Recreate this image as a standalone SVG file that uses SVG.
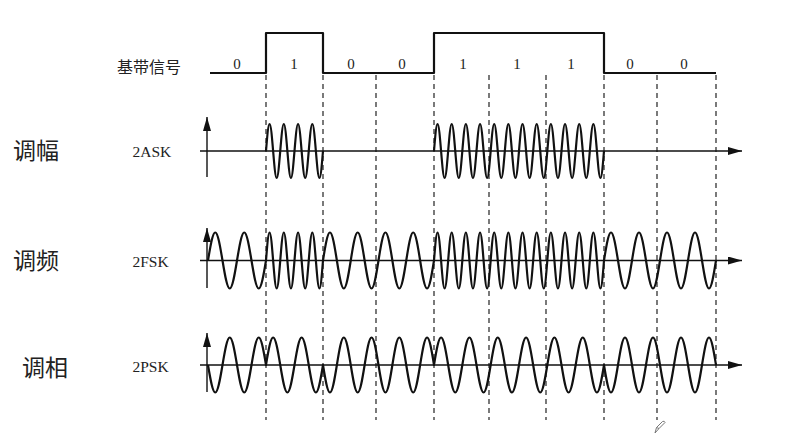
<svg xmlns="http://www.w3.org/2000/svg" width="791" height="446" viewBox="0 0 791 446">
<style>
.sig{fill:none;stroke:#111;stroke-width:2.2;stroke-linejoin:round}
.axis{fill:none;stroke:#111;stroke-width:1.4}
.dash{fill:none;stroke:#333;stroke-width:1.3;stroke-dasharray:5 4}
.cjk{font-family:"Noto Sans CJK SC","Noto Sans",sans-serif;fill:#222;dominant-baseline:central}
.ser{font-family:"Liberation Serif","Times New Roman",serif;fill:#222}
</style>
<defs>
<marker id="arr" viewBox="0 0 14 8" refX="14" refY="4" markerWidth="14" markerHeight="8" markerUnits="userSpaceOnUse" orient="auto">
<path d="M0,0 L14,4 L0,8 Z" fill="#111"/>
</marker>
</defs>
<rect width="791" height="446" fill="#fff"/>

<g id="connectors">
<path class="dash" d="M266,75V420M323,75V420M376,75V420M434,75V420M489,75V420M546,75V420M604,75V420M657,75V420M716,75V420"/>
<path class="axis" d="M200,151H742" marker-end="url(#arr)"/>
<path class="axis" d="M207,177V117" marker-end="url(#arr)"/>
<path class="axis" d="M200,260.5H742" marker-end="url(#arr)"/>
<path class="axis" d="M207,288V228" marker-end="url(#arr)"/>
<path class="axis" d="M200,365H742" marker-end="url(#arr)"/>
<path class="axis" d="M207,392V333" marker-end="url(#arr)"/>
</g>

<g id="baseband">
<text class="cjk" x="117" y="65.5" font-size="16">基带信号</text>
<path class="sig" d="M210,73H266V33H323V73H434V33H604V73H716"/>
<g class="ser" font-size="15" text-anchor="middle">
<text x="237" y="69">0</text>
<text x="294" y="69">1</text>
<text x="351" y="69">0</text>
<text x="402" y="69">0</text>
<text x="463" y="69">1</text>
<text x="517" y="69">1</text>
<text x="571" y="69">1</text>
<text x="630" y="69">0</text>
<text x="684" y="69">0</text>
</g>
</g>

<g id="ask">
<text class="cjk" x="13" y="149" font-size="23">调幅</text>
<text class="ser" x="132.5" y="156.7" font-size="15.5">2ASK</text>
<path class="sig" d="M266,151
c1.16,-13.83 2.27,-27 3.5625,-27 s2.4,13.17 3.5625,27 s2.27,27 3.5625,27 s2.4,-13.17 3.5625,-27
s2.27,-27 3.5625,-27 s2.4,13.17 3.5625,27 s2.27,27 3.5625,27 s2.4,-13.17 3.5625,-27
s2.27,-27 3.5625,-27 s2.4,13.17 3.5625,27 s2.27,27 3.5625,27 s2.4,-13.17 3.5625,-27
s2.27,-27 3.5625,-27 s2.4,13.17 3.5625,27 s2.27,27 3.5625,27 s2.4,-13.17 3.5625,-27
M434,151
c1.15,-13.83 2.26,-27 3.5417,-27 s2.39,13.17 3.5417,27 s2.26,27 3.5417,27 s2.39,-13.17 3.5417,-27
s2.26,-27 3.5417,-27 s2.39,13.17 3.5417,27 s2.26,27 3.5417,27 s2.39,-13.17 3.5417,-27
s2.26,-27 3.5417,-27 s2.39,13.17 3.5417,27 s2.26,27 3.5417,27 s2.39,-13.17 3.5417,-27
s2.26,-27 3.5417,-27 s2.39,13.17 3.5417,27 s2.26,27 3.5417,27 s2.39,-13.17 3.5417,-27
s2.26,-27 3.5417,-27 s2.39,13.17 3.5417,27 s2.26,27 3.5417,27 s2.39,-13.17 3.5417,-27
s2.26,-27 3.5417,-27 s2.39,13.17 3.5417,27 s2.26,27 3.5417,27 s2.39,-13.17 3.5417,-27
s2.26,-27 3.5417,-27 s2.39,13.17 3.5417,27 s2.26,27 3.5417,27 s2.39,-13.17 3.5417,-27
s2.26,-27 3.5417,-27 s2.39,13.17 3.5417,27 s2.26,27 3.5417,27 s2.39,-13.17 3.5417,-27
s2.26,-27 3.5417,-27 s2.39,13.17 3.5417,27 s2.26,27 3.5417,27 s2.39,-13.17 3.5417,-27
s2.26,-27 3.5417,-27 s2.39,13.17 3.5417,27 s2.26,27 3.5417,27 s2.39,-13.17 3.5417,-27
s2.26,-27 3.5417,-27 s2.39,13.17 3.5417,27 s2.26,27 3.5417,27 s2.39,-13.17 3.5417,-27
s2.26,-27 3.5417,-27 s2.39,13.17 3.5417,27 s2.26,27 3.5417,27 s2.39,-13.17 3.5417,-27"/>
</g>

<g id="fsk">
<text class="cjk" x="13" y="259" font-size="23">调频</text>
<text class="ser" x="132.5" y="267" font-size="15.5">2FSK</text>
<path class="sig" d="M208,260.5
c2.36,-14.34 4.63,-28 7.25,-28 s4.89,13.66 7.25,28 s4.63,28 7.25,28 s4.89,-13.66 7.25,-28
s4.63,-28 7.25,-28 s4.89,13.66 7.25,28 s4.63,28 7.25,28 s4.89,-13.66 7.25,-28
c1.16,-14.34 2.27,-28 3.5625,-28 s2.4,13.66 3.5625,28 s2.27,28 3.5625,28 s2.4,-13.66 3.5625,-28
s2.27,-28 3.5625,-28 s2.4,13.66 3.5625,28 s2.27,28 3.5625,28 s2.4,-13.66 3.5625,-28
s2.27,-28 3.5625,-28 s2.4,13.66 3.5625,28 s2.27,28 3.5625,28 s2.4,-13.66 3.5625,-28
s2.27,-28 3.5625,-28 s2.4,13.66 3.5625,28 s2.27,28 3.5625,28 s2.4,-13.66 3.5625,-28
c2.26,-14.34 4.43,-28 6.9375,-28 s4.68,13.66 6.9375,28 s4.43,28 6.9375,28 s4.68,-13.66 6.9375,-28
s4.43,-28 6.9375,-28 s4.68,13.66 6.9375,28 s4.43,28 6.9375,28 s4.68,-13.66 6.9375,-28
s4.43,-28 6.9375,-28 s4.68,13.66 6.9375,28 s4.43,28 6.9375,28 s4.68,-13.66 6.9375,-28
s4.43,-28 6.9375,-28 s4.68,13.66 6.9375,28 s4.43,28 6.9375,28 s4.68,-13.66 6.9375,-28
c1.15,-14.34 2.26,-28 3.5417,-28 s2.39,13.66 3.5417,28 s2.26,28 3.5417,28 s2.39,-13.66 3.5417,-28
s2.26,-28 3.5417,-28 s2.39,13.66 3.5417,28 s2.26,28 3.5417,28 s2.39,-13.66 3.5417,-28
s2.26,-28 3.5417,-28 s2.39,13.66 3.5417,28 s2.26,28 3.5417,28 s2.39,-13.66 3.5417,-28
s2.26,-28 3.5417,-28 s2.39,13.66 3.5417,28 s2.26,28 3.5417,28 s2.39,-13.66 3.5417,-28
s2.26,-28 3.5417,-28 s2.39,13.66 3.5417,28 s2.26,28 3.5417,28 s2.39,-13.66 3.5417,-28
s2.26,-28 3.5417,-28 s2.39,13.66 3.5417,28 s2.26,28 3.5417,28 s2.39,-13.66 3.5417,-28
s2.26,-28 3.5417,-28 s2.39,13.66 3.5417,28 s2.26,28 3.5417,28 s2.39,-13.66 3.5417,-28
s2.26,-28 3.5417,-28 s2.39,13.66 3.5417,28 s2.26,28 3.5417,28 s2.39,-13.66 3.5417,-28
s2.26,-28 3.5417,-28 s2.39,13.66 3.5417,28 s2.26,28 3.5417,28 s2.39,-13.66 3.5417,-28
s2.26,-28 3.5417,-28 s2.39,13.66 3.5417,28 s2.26,28 3.5417,28 s2.39,-13.66 3.5417,-28
s2.26,-28 3.5417,-28 s2.39,13.66 3.5417,28 s2.26,28 3.5417,28 s2.39,-13.66 3.5417,-28
s2.26,-28 3.5417,-28 s2.39,13.66 3.5417,28 s2.26,28 3.5417,28 s2.39,-13.66 3.5417,-28
c2.28,-14.34 4.47,-28 7,-28 s4.72,13.66 7,28 s4.47,28 7,28 s4.72,-13.66 7,-28
s4.47,-28 7,-28 s4.72,13.66 7,28 s4.47,28 7,28 s4.72,-13.66 7,-28
s4.47,-28 7,-28 s4.72,13.66 7,28 s4.47,28 7,28 s4.72,-13.66 7,-28
s4.47,-28 7,-28 s4.72,13.66 7,28 s4.47,28 7,28 s4.72,-13.66 7,-28"/>
</g>

<g id="psk">
<text class="cjk" x="22" y="366" font-size="23">调相</text>
<text class="ser" x="132.5" y="371.5" font-size="15.5">2PSK</text>
<path class="sig" d="M208,365
c2.36,14.09 4.63,27.5 7.25,27.5 s4.89,-13.41 7.25,-27.5 s4.63,-27.5 7.25,-27.5 s4.89,13.41 7.25,27.5
s4.63,27.5 7.25,27.5 s4.89,-13.41 7.25,-27.5 s4.63,-27.5 7.25,-27.5 s4.89,13.41 7.25,27.5
c2.32,-14.09 4.55,-27.5 7.125,-27.5 s4.8,13.41 7.125,27.5 s4.55,27.5 7.125,27.5 s4.8,-13.41 7.125,-27.5
s4.55,-27.5 7.125,-27.5 s4.8,13.41 7.125,27.5 s4.55,27.5 7.125,27.5 s4.8,-13.41 7.125,-27.5
c2.26,14.09 4.43,27.5 6.9375,27.5 s4.68,-13.41 6.9375,-27.5 s4.43,-27.5 6.9375,-27.5 s4.68,13.41 6.9375,27.5
s4.43,27.5 6.9375,27.5 s4.68,-13.41 6.9375,-27.5 s4.43,-27.5 6.9375,-27.5 s4.68,13.41 6.9375,27.5
s4.43,27.5 6.9375,27.5 s4.68,-13.41 6.9375,-27.5 s4.43,-27.5 6.9375,-27.5 s4.68,13.41 6.9375,27.5
s4.43,27.5 6.9375,27.5 s4.68,-13.41 6.9375,-27.5 s4.43,-27.5 6.9375,-27.5 s4.68,13.41 6.9375,27.5
c2.31,-14.09 4.52,-27.5 7.0833,-27.5 s4.77,13.41 7.0833,27.5 s4.52,27.5 7.0833,27.5 s4.77,-13.41 7.0833,-27.5
s4.52,-27.5 7.0833,-27.5 s4.77,13.41 7.0833,27.5 s4.52,27.5 7.0833,27.5 s4.77,-13.41 7.0833,-27.5
s4.52,-27.5 7.0833,-27.5 s4.77,13.41 7.0833,27.5 s4.52,27.5 7.0833,27.5 s4.77,-13.41 7.0833,-27.5
s4.52,-27.5 7.0833,-27.5 s4.77,13.41 7.0833,27.5 s4.52,27.5 7.0833,27.5 s4.77,-13.41 7.0833,-27.5
s4.52,-27.5 7.0833,-27.5 s4.77,13.41 7.0833,27.5 s4.52,27.5 7.0833,27.5 s4.77,-13.41 7.0833,-27.5
s4.52,-27.5 7.0833,-27.5 s4.77,13.41 7.0833,27.5 s4.52,27.5 7.0833,27.5 s4.77,-13.41 7.0833,-27.5
c2.28,14.09 4.47,27.5 7,27.5 s4.72,-13.41 7,-27.5 s4.47,-27.5 7,-27.5 s4.72,13.41 7,27.5
s4.47,27.5 7,27.5 s4.72,-13.41 7,-27.5 s4.47,-27.5 7,-27.5 s4.72,13.41 7,27.5
s4.47,27.5 7,27.5 s4.72,-13.41 7,-27.5 s4.47,-27.5 7,-27.5 s4.72,13.41 7,27.5
s4.47,27.5 7,27.5 s4.72,-13.41 7,-27.5 s4.47,-27.5 7,-27.5 s4.72,13.41 7,27.5"/>
</g>

<g id="pencil">
<path d="M655,433 L656.5,427.5 L662.5,421.5 Q664.5,420.5 665,422.5 L659,428.5 Z M656.5,427.5 L659,428.5" fill="none" stroke="#777" stroke-width="1" stroke-linejoin="round"/>
</g>
</svg>
